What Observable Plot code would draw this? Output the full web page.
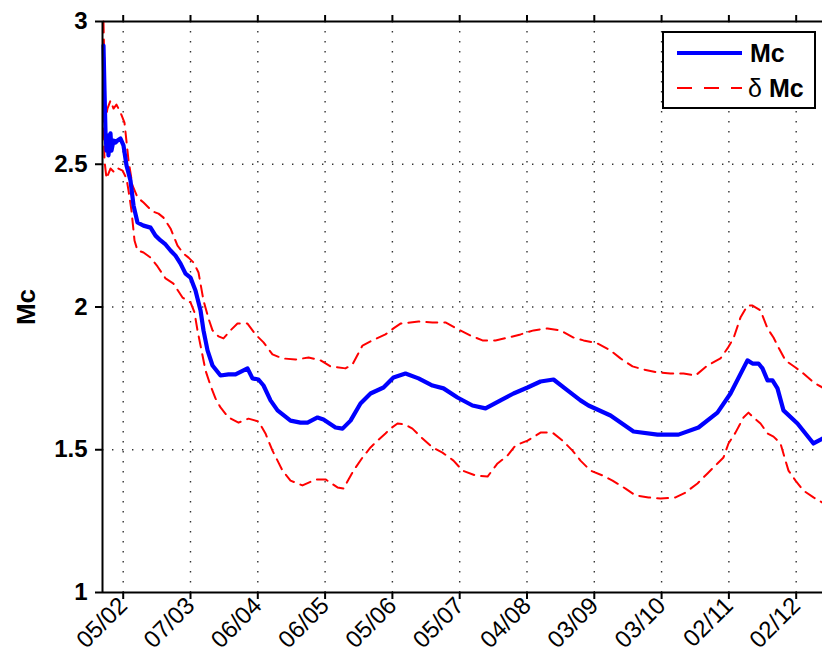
<!DOCTYPE html>
<html><head><meta charset="utf-8">
<script src="https://cdn.jsdelivr.net/npm/d3@7"></script>
<script src="https://cdn.jsdelivr.net/npm/@observablehq/plot@0.6"></script>
<style>
body{margin:0;background:#fff}
#chart svg g[aria-label="y-axis tick label"] text{font-weight:bold;font-size:24px}
#chart svg g[aria-label="x-axis tick label"] text{font-size:24px}
#chart svg g[aria-label="y-axis label"] text{font-weight:bold;font-size:26px}
#chart svg .legend text{text-anchor:start;font-size:25px}
</style>
</head><body><div id="chart"></div>
<script>
// x is measured in tick steps: 0 = "05/02", 10 = "02/12"
const tickLabels = ["05/02","07/03","06/04","06/05","05/06","05/07","04/08","03/09","03/10","02/11","02/12"];
const yTicks = [1, 1.5, 2, 2.5, 3];

const mcT = [-0.293,-0.278,-0.263,-0.248,-0.234,-0.219,-0.189,-0.174,-0.144,-0.114,-0.085,-0.040,0.004,0.049,0.108,0.153,0.212,0.302,0.406,0.480,0.555,0.629,0.703,0.777,0.852,0.926,1.000,1.045,1.074,1.149,1.193,1.253,1.327,1.446,1.565,1.669,1.847,1.921,2.010,2.085,2.189,2.293,2.486,2.634,2.739,2.888,2.976,3.155,3.259,3.378,3.526,3.675,3.868,4.016,4.194,4.388,4.596,4.759,4.967,5.190,5.384,5.607,5.800,6.008,6.201,6.394,6.602,6.795,6.914,7.241,7.583,7.939,8.251,8.548,8.830,9.024,9.276,9.351,9.440,9.499,9.574,9.648,9.722,9.811,10.019,10.257,10.391];
const mcV = [2.916,2.758,2.611,2.548,2.601,2.531,2.608,2.548,2.583,2.576,2.583,2.590,2.566,2.496,2.443,2.356,2.296,2.285,2.278,2.250,2.233,2.219,2.198,2.180,2.152,2.117,2.103,2.075,2.058,1.988,1.918,1.848,1.795,1.760,1.764,1.764,1.785,1.750,1.746,1.725,1.673,1.638,1.602,1.595,1.595,1.613,1.606,1.578,1.574,1.602,1.662,1.697,1.718,1.753,1.767,1.750,1.725,1.715,1.683,1.655,1.645,1.673,1.697,1.718,1.739,1.746,1.708,1.673,1.655,1.620,1.564,1.553,1.553,1.578,1.630,1.697,1.813,1.802,1.802,1.785,1.743,1.743,1.715,1.638,1.592,1.522,1.539];

const upT = [-0.293,-0.278,-0.263,-0.234,-0.189,-0.144,-0.100,-0.040,0.019,0.079,0.138,0.212,0.302,0.435,0.525,0.599,0.703,0.807,0.896,0.971,1.045,1.119,1.193,1.267,1.327,1.416,1.490,1.594,1.698,1.847,1.966,2.085,2.218,2.367,2.560,2.754,2.932,3.080,3.303,3.407,3.556,3.704,3.897,4.016,4.120,4.388,4.596,4.789,4.982,5.161,5.339,5.532,5.726,5.904,6.097,6.305,6.498,6.691,6.840,7.048,7.241,7.389,7.568,7.731,7.939,8.132,8.326,8.504,8.682,8.875,8.979,9.068,9.172,9.276,9.351,9.470,9.574,9.663,9.737,9.841,9.990,10.108,10.257,10.391];
const upV = [3.000,2.828,2.653,2.695,2.723,2.695,2.709,2.681,2.646,2.513,2.426,2.384,2.366,2.335,2.327,2.313,2.275,2.215,2.187,2.173,2.156,2.121,2.023,1.960,1.918,1.897,1.890,1.918,1.942,1.942,1.904,1.876,1.834,1.820,1.816,1.823,1.813,1.792,1.785,1.799,1.865,1.883,1.904,1.925,1.942,1.949,1.946,1.946,1.921,1.900,1.883,1.883,1.893,1.904,1.918,1.925,1.918,1.893,1.883,1.872,1.848,1.820,1.792,1.781,1.771,1.767,1.767,1.760,1.795,1.820,1.855,1.890,1.963,2.005,2.005,1.988,1.925,1.893,1.858,1.813,1.788,1.767,1.736,1.718];

const loT = [-0.293,-0.278,-0.248,-0.189,-0.129,-0.070,-0.010,0.049,0.079,0.123,0.168,0.212,0.302,0.406,0.510,0.629,0.747,0.881,1.000,1.059,1.104,1.149,1.223,1.297,1.371,1.446,1.565,1.713,1.862,2.010,2.114,2.218,2.308,2.367,2.486,2.664,2.858,3.006,3.184,3.274,3.422,3.556,3.675,3.779,3.897,3.972,4.076,4.194,4.298,4.417,4.596,4.744,4.908,5.042,5.235,5.414,5.562,5.711,5.830,6.008,6.201,6.379,6.528,6.676,6.795,6.944,7.122,7.271,7.464,7.612,7.806,7.984,8.207,8.355,8.533,8.682,8.830,8.920,8.994,9.098,9.217,9.291,9.351,9.470,9.574,9.663,9.767,9.841,9.886,9.990,10.108,10.257,10.391];
const loV = [2.688,2.513,2.450,2.485,2.471,2.485,2.478,2.450,2.408,2.338,2.233,2.198,2.191,2.173,2.142,2.100,2.082,2.033,2.016,1.981,1.918,1.865,1.778,1.725,1.680,1.648,1.613,1.595,1.609,1.599,1.557,1.497,1.455,1.427,1.392,1.375,1.396,1.396,1.368,1.364,1.427,1.473,1.508,1.532,1.557,1.574,1.592,1.588,1.574,1.546,1.508,1.490,1.462,1.427,1.410,1.406,1.452,1.480,1.515,1.532,1.560,1.560,1.532,1.497,1.462,1.427,1.410,1.392,1.364,1.340,1.333,1.329,1.333,1.350,1.382,1.417,1.452,1.473,1.522,1.560,1.613,1.630,1.616,1.592,1.557,1.546,1.522,1.462,1.427,1.392,1.357,1.333,1.315];

const tickValues = tickLabels.map((_, i) => i);
const xDomain = [-0.3076, 10.391];
const mc = mcT.map((t, i) => ({t, v: mcV[i]}));
const upper = upT.map((t, i) => ({t, v: upV[i]}));
const lower = loT.map((t, i) => ({t, v: loV[i]}));

const dotted = {stroke: "#000", strokeOpacity: 0.8, strokeWidth: 1.4, strokeDasharray: "1.4,8.6"};
const dashed = {x: "t", y: "v", stroke: "#ff0000", strokeWidth: 2, strokeDasharray: "11,7"};

const plot = Plot.plot({
  width: 822, height: 657,
  marginLeft: 102, marginRight: 0, marginTop: 21, marginBottom: 65,
  style: {fontFamily: "'Liberation Sans', Arial, sans-serif", background: "#fff", color: "#000"},
  x: {domain: xDomain},
  y: {domain: [1, 3]},
  marks: [
    Plot.gridX(tickValues, dotted),
    Plot.gridY([1.5, 2, 2.5], dotted),
    Plot.line(upper, dashed),
    Plot.line(lower, dashed),
    Plot.line(mc, {x: "t", y: "v", stroke: "#0000ff", strokeWidth: 4.2}),
    Plot.axisX({anchor: "bottom", ticks: tickValues, tickFormat: (d) => tickLabels[d], tickRotate: -45,
      tickSize: 7, tickPadding: 2, strokeWidth: 2, label: null}),
    Plot.axisX({anchor: "top", ticks: tickValues, tickFormat: () => "", tickSize: 7, strokeWidth: 2, label: null}),
    Plot.axisY({anchor: "left", ticks: yTicks, tickFormat: (d) => String(d), tickSize: 7, tickPadding: 8,
      strokeWidth: 2, label: "Mc", labelAnchor: "center", labelArrow: "none", labelOffset: 86}),
    Plot.ruleY([1, 3], {stroke: "#000", strokeWidth: 2}),
    Plot.ruleX([xDomain[0]], {stroke: "#000", strokeWidth: 2})
  ]
});
document.getElementById("chart").appendChild(plot);

// legend box in the upper right corner
const svg = d3.select(plot);
const lg = svg.append("g").attr("class", "legend").attr("font-family", "'Liberation Sans', Arial, sans-serif");
lg.append("rect").attr("x", 663).attr("y", 32).attr("width", 152).attr("height", 76)
  .attr("fill", "#fff").attr("stroke", "#000").attr("stroke-width", 2);
lg.append("line").attr("x1", 677).attr("x2", 742).attr("y1", 53).attr("y2", 53)
  .attr("stroke", "#0000ff").attr("stroke-width", 4.2);
lg.append("text").attr("x", 750).attr("y", 62).attr("font-weight", "bold").text("Mc");
lg.append("line").attr("x1", 677).attr("x2", 742).attr("y1", 88).attr("y2", 88)
  .attr("stroke", "#ff0000").attr("stroke-width", 2).attr("stroke-dasharray", "15,12");
const t2 = lg.append("text").attr("x", 748).attr("y", 97);
t2.append("tspan").text("δ ");
t2.append("tspan").attr("font-weight", "bold").text("Mc");
</script>
</body></html>
